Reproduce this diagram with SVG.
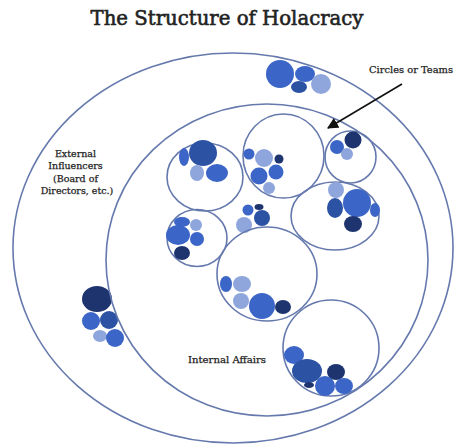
<svg xmlns="http://www.w3.org/2000/svg" width="454" height="444" viewBox="0 0 454 444">
<defs>
<style>
.ring{fill:none;stroke:#6579ad;stroke-width:1.6}
.m{fill:#3b65c6}
.d{fill:#2c52a4}
.n{fill:#1e346f}
.l{fill:#8fa6dd}
.t{font-family:"DejaVu Serif","Liberation Serif",serif;fill:#222;stroke:#222;stroke-width:0.25}
.title{stroke-width:0.6}
</style>
<marker id="ah" viewBox="0 0 10 10" refX="9" refY="5" markerWidth="7" markerHeight="7" orient="auto"><path d="M0,0 L10,5 L0,10 z" fill="#111"/></marker>
</defs>
<rect width="454" height="444" fill="#fff"/>
<text class="t title" x="227" y="25" font-size="20" text-anchor="middle" textLength="273" lengthAdjust="spacingAndGlyphs">The Structure of Holacracy</text>

<g id="external">
<ellipse class="ring" cx="233" cy="248" rx="220" ry="195"/>
<text class="t" font-size="9.5" text-anchor="middle">
<tspan x="77" y="157">External</tspan>
<tspan x="77" y="169">Influencers</tspan>
<tspan x="77" y="182">(Board of</tspan>
<tspan x="77" y="194">Directors, etc.)</tspan>
</text>
<g id="cluster-top">
<circle class="m" cx="280" cy="74" r="14"/>
<ellipse class="m" cx="305" cy="74" rx="10" ry="8"/>
<ellipse class="d" cx="299" cy="87" rx="8" ry="6"/>
<circle class="l" cx="321" cy="84" r="10"/>
</g>
<g id="cluster-left">
<ellipse class="n" cx="97" cy="299" rx="15" ry="13"/>
<circle class="m" cx="91" cy="321" r="9"/>
<circle class="d" cx="109" cy="320" r="9"/>
<ellipse class="l" cx="100" cy="336" rx="7" ry="6"/>
<circle class="m" cx="115" cy="338" r="9"/>
</g>
</g>

<g id="internal">
<ellipse class="ring" cx="267" cy="260" rx="161" ry="156"/>
<text class="t" x="227" y="363" font-size="9.5" text-anchor="middle" textLength="78" lengthAdjust="spacingAndGlyphs">Internal Affairs</text>
</g>

<g id="circleA">
<ellipse class="ring" cx="205" cy="177" rx="38" ry="34"/>
<ellipse class="d" cx="203" cy="153" rx="14" ry="13"/>
<ellipse class="m" cx="184" cy="157" rx="5" ry="9"/>
<ellipse class="l" cx="197" cy="173" rx="7" ry="8"/>
<ellipse class="m" cx="217" cy="173" rx="11" ry="9"/>
</g>
<g id="circleB">
<ellipse class="ring" cx="197" cy="238" rx="30" ry="28.5"/>
<ellipse class="m" cx="182" cy="222" rx="8" ry="5"/>
<circle class="l" cx="196" cy="225" r="6"/>
<ellipse class="m" cx="178" cy="235" rx="12" ry="10"/>
<circle class="m" cx="197" cy="239" r="7"/>
<ellipse class="n" cx="182" cy="253" rx="8" ry="7"/>
</g>
<g id="circleC">
<ellipse class="ring" cx="283.5" cy="156" rx="40.5" ry="42"/>
<circle class="m" cx="249" cy="154" r="5.5"/>
<circle class="l" cx="264" cy="158" r="9"/>
<circle class="n" cx="279" cy="159" r="4.5"/>
<circle class="l" cx="269" cy="188" r="6"/>
<circle class="m" cx="259" cy="176" r="8.5"/>
<circle class="m" cx="276" cy="172" r="7.5"/>
</g>
<g id="circleD">
<ellipse class="ring" cx="350.5" cy="157" rx="25.5" ry="26"/>
<circle class="n" cx="353" cy="140" r="8.5"/>
<circle class="m" cx="337" cy="147" r="7"/>
<circle class="l" cx="347" cy="154" r="6"/>
</g>
<g id="circleE">
<ellipse class="ring" cx="335" cy="216" rx="44" ry="34"/>
<circle class="l" cx="336" cy="190" r="8"/>
<circle class="m" cx="357" cy="203" r="14"/>
<ellipse class="d" cx="335" cy="208" rx="8" ry="10"/>
<ellipse class="m" cx="375" cy="210" rx="5" ry="7"/>
<ellipse class="n" cx="353" cy="224" rx="9" ry="8"/>
</g>
<g id="cluster-middle">
<circle class="m" cx="248" cy="210" r="5.5"/>
<ellipse class="n" cx="259" cy="207" rx="4.5" ry="3"/>
<circle class="d" cx="262" cy="218" r="8"/>
<circle class="l" cx="244" cy="225" r="8"/>
</g>
<g id="circleF">
<ellipse class="ring" cx="267" cy="274" rx="50" ry="47"/>
<ellipse class="m" cx="226" cy="284" rx="6" ry="8"/>
<ellipse class="l" cx="242" cy="284" rx="9" ry="8"/>
<circle class="l" cx="241" cy="301" r="8"/>
<circle class="m" cx="262" cy="306" r="13"/>
<ellipse class="n" cx="283" cy="307" rx="8" ry="7"/>
</g>
<g id="circleG">
<circle class="ring" cx="331" cy="348" r="48"/>
<ellipse class="m" cx="294" cy="355" rx="10" ry="9"/>
<ellipse class="d" cx="307" cy="371" rx="15" ry="12"/>
<ellipse class="n" cx="336" cy="372" rx="9" ry="8"/>
<ellipse class="n" cx="309" cy="385" rx="5" ry="3"/>
<circle class="m" cx="325" cy="386" r="10"/>
<ellipse class="m" cx="344" cy="386" rx="9" ry="8"/>
</g>

<g id="label-circles">
<text class="t" x="411" y="73" font-size="9.5" text-anchor="middle" textLength="84" lengthAdjust="spacingAndGlyphs">Circles or Teams</text>
</g>
<g id="connectors">
<line x1="402" y1="84" x2="328" y2="128" stroke="#111" stroke-width="1.6" marker-end="url(#ah)"/>
</g>
</svg>
